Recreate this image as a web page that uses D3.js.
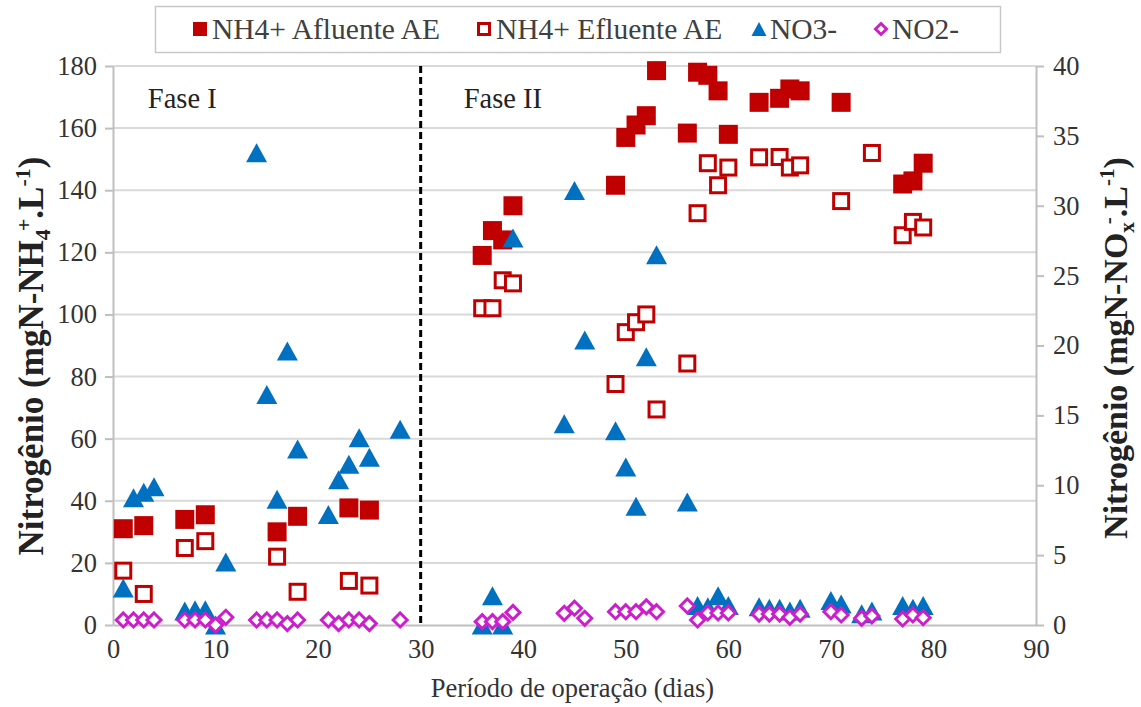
<!DOCTYPE html>
<html>
<head>
<meta charset="utf-8">
<script src="https://cdn.jsdelivr.net/npm/d3@7"></script>
<style>
  html, body { margin: 0; padding: 0; background: #fff; }
  svg { display: block; font-family: "Liberation Serif", "Times New Roman", serif; }
</style>
</head>
<body>
<div id="chart"></div>
<script>
// Nitrogen species over operating period (Fase I / Fase II)

const xTicks = [0, 10, 20, 30, 40, 50, 60, 70, 80, 90];
const yLeftTicks = [0, 20, 40, 60, 80, 100, 120, 140, 160, 180];
const yRightTicks = [0, 5, 10, 15, 20, 25, 30, 35, 40];

// NH4+ Afluente AE (left axis)
const afluenteDias = [1, 3, 7, 9, 16, 18, 23, 25, 36, 37, 38, 39, 49, 50, 51, 52, 53, 56, 57, 58, 59, 60, 63, 65, 66, 67, 71, 77, 78, 79];
const afluenteVal = [31, 32, 34, 35.5, 30, 35, 37.7, 37, 119, 127, 124, 135, 141.6, 157, 161, 164, 178.5, 158.4, 178, 177, 172, 158, 168.3, 169.6, 172.6, 172, 168.3, 142, 143, 148.7];

// NH4+ Efluente AE (left axis)
const efluenteDias = [1, 3, 7, 9, 16, 18, 23, 25, 36, 37, 38, 39, 49, 50, 51, 52, 53, 56, 57, 58, 59, 60, 63, 65, 66, 67, 71, 74, 77, 78, 79];
const efluenteVal = [17.5, 10, 24.8, 27, 22, 10.7, 14.2, 12.7, 102, 102, 111, 110, 77.6, 94.3, 97.5, 100, 69.4, 84.2, 132.6, 148.7, 141.6, 147.3, 150.6, 150.7, 147.3, 148, 136.5, 152, 125.5, 129.8, 128];

// NO3- (right axis)
const no3Dias = [1, 2, 3, 4, 7, 8, 9, 10, 11, 14, 15, 16, 17, 18, 21, 22, 23, 24, 25, 28, 36, 37, 38, 39, 44, 45, 46, 49, 50, 51, 52, 53, 56, 57, 58, 59, 60, 63, 64, 65, 66, 67, 70, 71, 73, 74, 77, 78, 79];
const no3Val = [2.65, 9.1, 9.5, 9.9, 1.0, 1.1, 1.1, 0, 4.5, 33.8, 16.5, 9.0, 19.6, 12.6, 7.9, 10.4, 11.5, 13.4, 12.0, 14.0, 0, 2.1, 0, 27.7, 14.4, 31.1, 20.4, 13.9, 11.3, 8.5, 19.2, 26.5, 8.8, 1.4, 1.3, 2.1, 1.4, 1.3, 1.2, 1.2, 1.0, 1.2, 1.75, 1.5, 0.8, 1.0, 1.4, 1.2, 1.4];

// NO2- (right axis)
const no2Dias = [1, 2, 3, 4, 7, 8, 9, 10, 11, 14, 15, 16, 17, 18, 21, 22, 23, 24, 25, 28, 36, 37, 38, 39, 44, 45, 46, 49, 50, 51, 52, 53, 56, 57, 58, 59, 60, 63, 64, 65, 66, 67, 70, 71, 73, 74, 77, 78, 79];
const no2Val = [0.36, 0.36, 0.36, 0.36, 0.36, 0.36, 0.36, 0, 0.55, 0.36, 0.36, 0.36, 0.1, 0.36, 0.36, 0.1, 0.36, 0.36, 0.1, 0.36, 0.24, 0.24, 0.24, 0.9, 0.84, 1.2, 0.48, 0.95, 0.95, 0.95, 1.3, 0.95, 1.36, 0.36, 0.86, 0.86, 0.86, 0.78, 0.78, 0.78, 0.55, 0.78, 0.95, 0.72, 0.48, 0.65, 0.43, 0.72, 0.52];

const faseDivisa = 30;

const RED = "#c00000";
const BLUE = "#0070c0";
const MAGENTA = "#cc1fcc";
const GRID = "#d9d9d9";
const AXIS = "#bfbfbf";
const TEXT = "#333333";
const SERIF = "'Liberation Serif', 'Times New Roman', serif";

const width = 1141, height = 707;
const plot = { left: 113, right: 1036, top: 66, bottom: 625 };

const svg = d3.select("#chart").append("svg")
    .attr("width", width)
    .attr("height", height);

const x = d3.scaleLinear().domain([0, 90]).range([plot.left, plot.right]);
const yL = d3.scaleLinear().domain([0, 180]).range([plot.bottom, plot.top]);
const yR = d3.scaleLinear().domain([0, 40]).range([plot.bottom, plot.top]);

// gridlines (left axis major)
svg.append("g")
    .selectAll("line")
    .data(yLeftTicks.filter(d => d > 0))
    .enter().append("line")
    .attr("x1", plot.left).attr("x2", plot.right)
    .attr("y1", d => yL(d)).attr("y2", d => yL(d))
    .attr("stroke", GRID).attr("stroke-width", 2);

// axes
const styleAxis = g => {
    g.attr("font-family", SERIF);
    g.select(".domain").attr("stroke", AXIS).attr("stroke-width", 2);
    g.selectAll(".tick line").attr("stroke", AXIS).attr("stroke-width", 2);
    g.selectAll(".tick text")
        .attr("fill", TEXT)
        .style("font-family", SERIF)
        .style("font-size", "26.5px");
};

svg.append("g")
    .attr("transform", `translate(${plot.left},0)`)
    .call(d3.axisLeft(yL).tickValues(yLeftTicks).tickSize(8).tickSizeOuter(0).tickPadding(8))
    .call(styleAxis);

svg.append("g")
    .attr("transform", `translate(${plot.right},0)`)
    .call(d3.axisRight(yR).tickValues(yRightTicks).tickSize(8).tickSizeOuter(0).tickPadding(9))
    .call(styleAxis);

svg.append("g")
    .attr("transform", `translate(0,${plot.bottom})`)
    .call(d3.axisBottom(x).tickValues(xTicks).tickSize(0).tickSizeOuter(0).tickPadding(14))
    .call(styleAxis);

// phase divider
svg.append("line")
    .attr("x1", x(faseDivisa)).attr("x2", x(faseDivisa))
    .attr("y1", yL(180)).attr("y2", yL(0))
    .attr("stroke", "#000").attr("stroke-width", 3)
    .attr("stroke-dasharray", "7,4");

svg.append("text")
    .attr("x", x(3.4)).attr("y", yL(180) + 42)
    .attr("font-size", 28.5).attr("fill", "#222")
    .text("Fase I");

svg.append("text")
    .attr("x", x(34.2)).attr("y", yL(180) + 42)
    .attr("font-size", 28.5).attr("fill", "#222")
    .text("Fase II");

// marker shapes
const trianglePath = (w, h) => `M0,${-h / 2}L${w / 2},${h / 2}L${-w / 2},${h / 2}Z`;
const diamondPath = r => `M0,${-r}L${r},0L0,${r}L${-r},0Z`;

const zip = (xs, ys) => xs.map((d, i) => ({ dia: d, v: ys[i] }));

// NH4+ Afluente
svg.append("g").selectAll("rect")
    .data(zip(afluenteDias, afluenteVal))
    .enter().append("rect")
    .attr("x", d => x(d.dia) - 9.5)
    .attr("y", d => yL(d.v) - 9.5)
    .attr("width", 19).attr("height", 19)
    .attr("fill", RED);

// NH4+ Efluente
svg.append("g").selectAll("rect")
    .data(zip(efluenteDias, efluenteVal))
    .enter().append("rect")
    .attr("x", d => x(d.dia) - 7.5)
    .attr("y", d => yL(d.v) - 7.5)
    .attr("width", 15).attr("height", 15)
    .attr("fill", "#fff")
    .attr("stroke", RED).attr("stroke-width", 3);

// NO3-
svg.append("g").selectAll("path")
    .data(zip(no3Dias, no3Val))
    .enter().append("path")
    .attr("transform", d => `translate(${x(d.dia)},${yR(d.v)})`)
    .attr("d", trianglePath(21, 19))
    .attr("fill", BLUE);

// NO2-
svg.append("g").selectAll("path")
    .data(zip(no2Dias, no2Val))
    .enter().append("path")
    .attr("transform", d => `translate(${x(d.dia)},${yR(d.v)})`)
    .attr("d", diamondPath(7))
    .attr("fill", "#fff")
    .attr("stroke", MAGENTA).attr("stroke-width", 3);

// axis titles
const addTitle = (tx, ty, size, ion, sub, sup) => {
    const small = Math.round(size * 0.63);
    const t = svg.append("text")
        .attr("transform", `translate(${tx},${ty}) rotate(-90)`)
        .attr("text-anchor", "middle")
        .attr("font-weight", "bold").attr("font-size", size).attr("fill", "#222");
    t.append("tspan").text("Nitrogênio (mgN-" + ion);
    t.append("tspan").attr("font-size", small).attr("dy", 7).text(sub);
    t.append("tspan").attr("font-size", small).attr("dy", -19).attr("dx", -2).text(sup);
    t.append("tspan").attr("dy", 12).text(".L");
    t.append("tspan").attr("font-size", small).attr("dy", -13).text("-1");
    t.append("tspan").attr("dy", 13).text(")");
};
addTitle(43, 356, 35, "NH", "4", "+");
addTitle(1127, 348, 34, "NO", "x", "-");

svg.append("text")
    .attr("x", (plot.left + plot.right) / 2 - 2).attr("y", 697)
    .attr("text-anchor", "middle")
    .attr("font-size", 26.5).attr("fill", TEXT)
    .text("Período de operação (dias)");

// legend
const legend = svg.append("g");
legend.append("rect")
    .attr("x", 155.5).attr("y", 6.5).attr("width", 845).attr("height", 46)
    .attr("fill", "#fff").attr("stroke", "#c8c8c8").attr("stroke-width", 1.5);

const legendItems = [
    { label: "NH4+ Afluente AE", mx: 200, tx: 212, kind: "filled" },
    { label: "NH4+ Efluente AE", mx: 484, tx: 496, kind: "hollow" },
    { label: "NO3-", mx: 759, tx: 770, kind: "tri" },
    { label: "NO2-", mx: 881, tx: 892, kind: "dia" }
];
const ly = 29;
legendItems.forEach(it => {
    if (it.kind === "filled") {
        legend.append("rect").attr("x", it.mx - 7).attr("y", ly - 7).attr("width", 14).attr("height", 14).attr("fill", RED);
    } else if (it.kind === "hollow") {
        legend.append("rect").attr("x", it.mx - 5.5).attr("y", ly - 5.5).attr("width", 11).attr("height", 11)
            .attr("fill", "#fff").attr("stroke", RED).attr("stroke-width", 3);
    } else if (it.kind === "tri") {
        legend.append("path").attr("transform", `translate(${it.mx},${ly})`).attr("d", trianglePath(15, 14)).attr("fill", BLUE);
    } else {
        legend.append("path").attr("transform", `translate(${it.mx},${ly})`).attr("d", diamondPath(5.5))
            .attr("fill", "#fff").attr("stroke", MAGENTA).attr("stroke-width", 3);
    }
    legend.append("text")
        .attr("x", it.tx).attr("y", ly + 10)
        .attr("font-size", 29.5).attr("fill", "#404040")
        .text(it.label);
});
</script>
</body>
</html>
